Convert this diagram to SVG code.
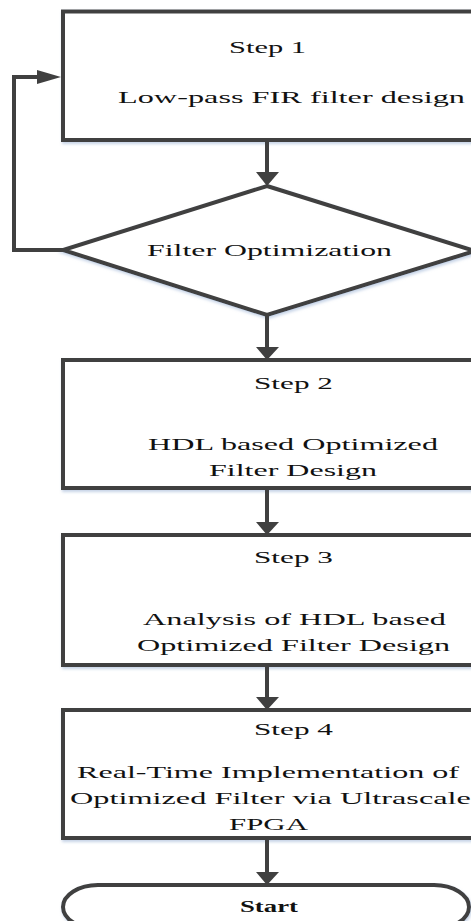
<svg xmlns="http://www.w3.org/2000/svg" width="471" height="921" viewBox="0 0 471 921">
<style>
.box{fill:#fff;stroke:#404040;stroke-width:4;filter:url(#sh)}
.ln{fill:none;stroke:#404040;stroke-width:4}
.hd{fill:#404040}
text{font-family:"Liberation Serif","Times New Roman",serif;font-size:17px;fill:#111}
</style>
<defs>
<filter id="sh" x="-10%" y="-10%" width="120%" height="120%">
<feDropShadow dx="1" dy="2" stdDeviation="1.5" flood-color="#9fb6d6" flood-opacity="0.6"/>
</filter>
</defs>
<g id="step1">
<rect class="box" x="63" y="11.5" width="412" height="128.5"/>
<text transform="translate(229,53) scale(1.75,1)" textLength="44" lengthAdjust="spacingAndGlyphs">Step 1</text>
<text transform="translate(118,103) scale(1.75,1)" textLength="198.3" lengthAdjust="spacingAndGlyphs">Low-pass FIR filter design</text>
</g>
<g id="decision">
<polygon class="box" points="267,186 475,251 267,315 63,250"/>
<text transform="translate(147,256) scale(1.75,1)" textLength="140" lengthAdjust="spacingAndGlyphs">Filter Optimization</text>
</g>
<g id="step2">
<rect class="box" x="63" y="360" width="412" height="128"/>
<text transform="translate(254,389) scale(1.75,1)" textLength="45.1" lengthAdjust="spacingAndGlyphs">Step 2</text>
<text transform="translate(148,450) scale(1.75,1)" textLength="165.7" lengthAdjust="spacingAndGlyphs">HDL based Optimized</text>
<text transform="translate(209,476) scale(1.75,1)" textLength="96" lengthAdjust="spacingAndGlyphs">Filter Design</text>
</g>
<g id="step3">
<rect class="box" x="63" y="535" width="412" height="130"/>
<text transform="translate(254,563) scale(1.75,1)" textLength="45.1" lengthAdjust="spacingAndGlyphs">Step 3</text>
<text transform="translate(143,625) scale(1.75,1)" textLength="173.1" lengthAdjust="spacingAndGlyphs">Analysis of HDL based</text>
<text transform="translate(137,651) scale(1.75,1)" textLength="178.9" lengthAdjust="spacingAndGlyphs">Optimized Filter Design</text>
</g>
<g id="step4">
<rect class="box" x="63" y="710" width="412" height="128"/>
<text transform="translate(254,735) scale(1.75,1)" textLength="45.1" lengthAdjust="spacingAndGlyphs">Step 4</text>
<text transform="translate(77,778) scale(1.75,1)" textLength="218.3" lengthAdjust="spacingAndGlyphs">Real-Time Implementation of</text>
<text transform="translate(70,804) scale(1.75,1)" textLength="229.1" lengthAdjust="spacingAndGlyphs">Optimized Filter via Ultrascale</text>
<text transform="translate(229,830) scale(1.75,1)" textLength="45.1" lengthAdjust="spacingAndGlyphs">FPGA</text>
</g>
<g id="start">
<rect class="box" x="63" y="885" width="406" height="44" rx="35" ry="22"/>
<text transform="translate(240,912) scale(1.75,1)" textLength="33.1" lengthAdjust="spacingAndGlyphs" font-weight="bold">Start</text>
</g>
<g id="connectors">
<line class="ln" x1="267" y1="140" x2="267" y2="174"/>
<polygon class="hd" points="256,172 279,172 267,186"/>
<line class="ln" x1="267" y1="315" x2="267" y2="349"/>
<polygon class="hd" points="256,347 279,347 267,360"/>
<line class="ln" x1="267" y1="488" x2="267" y2="524"/>
<polygon class="hd" points="256,522 279,522 267,535"/>
<line class="ln" x1="267" y1="665" x2="267" y2="699"/>
<polygon class="hd" points="256,697 279,697 267,710"/>
<line class="ln" x1="267" y1="838" x2="267" y2="874"/>
<polygon class="hd" points="256,872 279,872 267,885"/>
<polyline class="ln" points="63,250 14,250 14,77 40,77"/>
<polygon class="hd" points="37,70 37,84 61,77"/>
</g>
</svg>
